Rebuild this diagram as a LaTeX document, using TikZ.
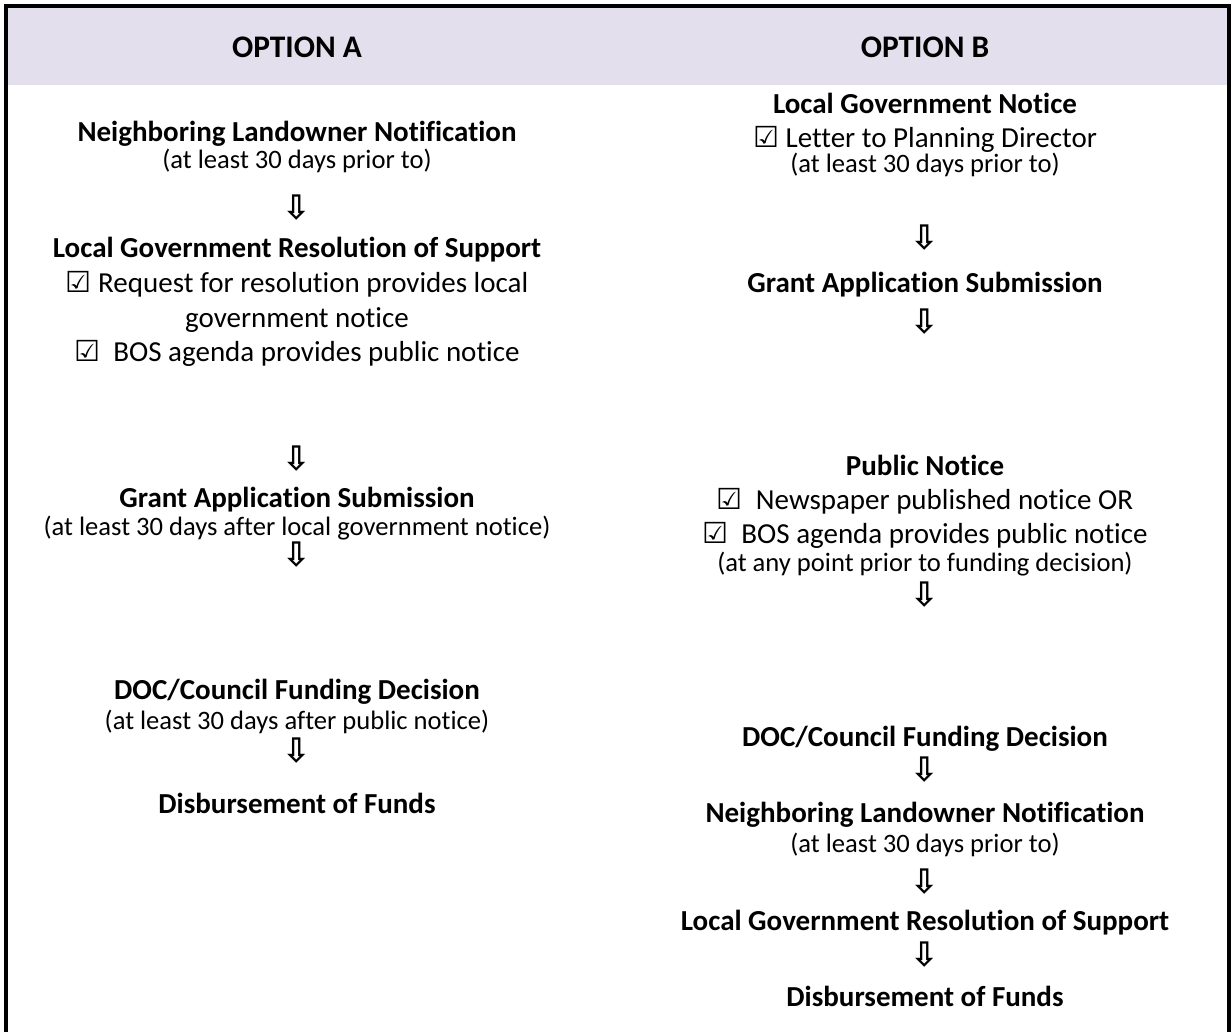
\documentclass[tikz,border=0pt]{standalone}
\usepackage{fontspec}
\setmainfont{Carlito}[Ligatures=NoCommon]
\newfontfamily\symfont{DejaVu Sans}
\definecolor{headfill}{HTML}{E4DFEC}
\tikzset{
  headtext/.style={anchor=base,font=\bfseries\fontsize{13}{15}\selectfont},
  steptitle/.style={anchor=base,font=\bfseries\fontsize{12}{14}\selectfont},
  stepitem/.style={anchor=base,font=\fontsize{12}{14}\selectfont},
  stepnote/.style={anchor=base,font=\fontsize{11}{13}\selectfont},
  downarrow/.style={inner sep=0pt,font=\symfont\bfseries\fontsize{14}{16}\selectfont},
}
\newcommand{\chk}{{\symfont\char"2611}}
\newcommand{\dn}{\char"21E9}
\begin{document}
\begin{tikzpicture}[x=0.4138pt,y=-0.4138pt]
\useasboundingbox (0,0) rectangle (1231,1032);
%%
\fill[headfill] (6,6) rectangle (1229,85);
\draw[line width=1.3pt] (6,1032) -- (6,6) -- (1229,6) -- (1229,1032);
\node (head_a) at (297,57) [headtext] {OPTION A};
\node (head_b) at (925,57) [headtext] {OPTION B};
%
\node (node_a1) at (297,141) [steptitle] {Neighboring Landowner Notification};
  \node (node_a1n) at (297,168) [stepnote] {(at least 30 days prior to)};
  \node (arr_a1) at (297,208) [downarrow] {\dn};
  \node (node_a2) at (297,257) [steptitle] {Local Government Resolution of Support};
  \node (node_a2i) at (297,292) [stepitem] {\chk~Request for resolution provides local};
  \node (node_a2j) at (297,327) [stepitem] {government notice};
  \node (node_a2k) at (297,361) [stepitem] {\chk~~BOS agenda provides public notice};
  \node (arr_a2) at (297,459) [downarrow] {\dn};
  \node (node_a3) at (297,507) [steptitle] {Grant Application Submission};
  \node (node_a3n) at (297,535) [stepnote] {(at least 30 days after local government notice)};
  \node (arr_a3) at (297,555) [downarrow] {\dn};
  \node (node_a4) at (297,699) [steptitle] {DOC/Council Funding Decision};
  \node (node_a4n) at (297,729) [stepnote] {(at least 30 days after public notice)};
  \node (arr_a4) at (297,751) [downarrow] {\dn};
  \node (node_a5) at (297,813) [steptitle] {Disbursement of Funds};
%
\node (node_b1) at (925,113) [steptitle] {Local Government Notice};
  \node (node_b1i) at (925,147) [stepitem] {\chk~Letter to Planning Director};
  \node (node_b1n) at (925,172) [stepnote] {(at least 30 days prior to)};
  \node (arr_b1) at (925,238) [downarrow] {\dn};
  \node (node_b2) at (925,292) [steptitle] {Grant Application Submission};
  \node (arr_b2) at (925,322) [downarrow] {\dn};
  \node (node_b3) at (925,475) [steptitle] {Public Notice};
  \node (node_b3i) at (925,509) [stepitem] {\chk~~Newspaper published notice OR};
  \node (node_b3j) at (925,543) [stepitem] {\chk~~BOS agenda provides public notice};
  \node (node_b3n) at (925,571) [stepnote] {(at any point prior to funding decision)};
  \node (arr_b3) at (925,595) [downarrow] {\dn};
  \node (node_b4) at (925,746) [steptitle] {DOC/Council Funding Decision};
  \node (arr_b4) at (925,770) [downarrow] {\dn};
  \node (node_b5) at (925,822) [steptitle] {Neighboring Landowner Notification};
  \node (node_b5n) at (925,852) [stepnote] {(at least 30 days prior to)};
  \node (arr_b5) at (925,882) [downarrow] {\dn};
  \node (node_b6) at (925,930) [steptitle] {Local Government Resolution of Support};
  \node (arr_b6) at (925,955) [downarrow] {\dn};
  \node (node_b7) at (925,1006) [steptitle] {Disbursement of Funds};
%
\end{tikzpicture}
\end{document}
